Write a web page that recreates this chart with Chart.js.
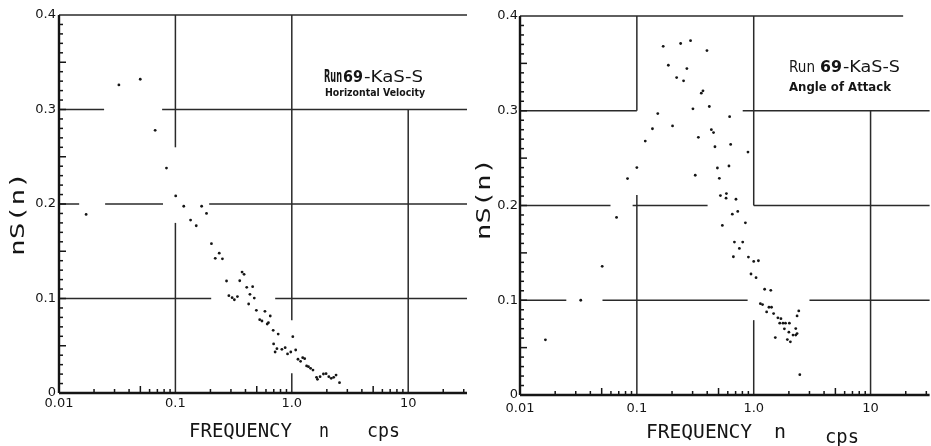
<!DOCTYPE html>
<html>
<head>
<meta charset="utf-8">
<script src="https://cdn.jsdelivr.net/npm/chart.js@4.4.1/dist/chart.umd.min.js"></script>
<style>
  html, body { margin: 0; padding: 0; background: #fff; }
  #wrap { position: relative; width: 931px; height: 446px; overflow: hidden; }
  #wrap canvas { position: absolute; top: 0; }
  #left { left: 0; }
  #right { left: 460px; }
</style>
</head>
<body>
<div id="wrap">
  <canvas id="left" width="470" height="446"></canvas>
  <canvas id="right" width="471" height="446"></canvas>
</div>
<script>
// tick values and labels (shared by both panels)
const freqTicks = [0.01, 0.1, 1, 10];
const freqLabels = ["0.01", "0.1", "1.0", "10"];
const powerTicks = [0, 0.1, 0.2, 0.3, 0.4];
const powerLabels = ["0", "0.1", "0.2", "0.3", "0.4"];

// Horizontal velocity spectrum (left panel), frequency in cps
const hvFreq = [0.0171, 0.0327, 0.0499, 0.067, 0.0838, 0.1006, 0.118, 0.135, 0.151, 0.168,
  0.185, 0.204, 0.22, 0.238, 0.2535, 0.275, 0.288, 0.307, 0.321, 0.341,
  0.357, 0.374, 0.389, 0.41, 0.426, 0.437, 0.461, 0.476, 0.496, 0.53,
  0.554, 0.588, 0.615, 0.63, 0.653, 0.692, 0.698, 0.719, 0.745, 0.764,
  0.822, 0.877, 0.919, 0.98, 1.02, 1.08, 1.13, 1.19, 1.24, 1.29,
  1.34, 1.39, 1.45, 1.52, 1.63, 1.66, 1.75, 1.87, 1.97, 2.08,
  2.18, 2.29, 2.4, 2.57];
const hvPower = [0.189, 0.326, 0.332, 0.278, 0.238, 0.2085, 0.1976, 0.183, 0.177, 0.1976,
  0.19, 0.158, 0.1425, 0.148, 0.142, 0.1185, 0.103, 0.1009, 0.0987, 0.102,
  0.1188, 0.128, 0.1256, 0.1118, 0.0942, 0.1044, 0.1125, 0.1005, 0.0875, 0.0776,
  0.0762, 0.0864, 0.073, 0.0744, 0.0815, 0.0663, 0.0519, 0.0434, 0.0469, 0.0624,
  0.0462, 0.048, 0.0413, 0.0434, 0.0596, 0.0455, 0.0357, 0.0335, 0.0374, 0.0363,
  0.0286, 0.0279, 0.0261, 0.0243, 0.0166, 0.0145, 0.0173, 0.0201, 0.0204, 0.0173,
  0.0155, 0.0166, 0.019, 0.0109];

// Angle of attack spectrum (right panel)
const aoaFreq = [0.0165, 0.0331, 0.0505, 0.067, 0.0832, 0.1, 0.118, 0.136, 0.151, 0.168,
  0.186, 0.202, 0.219, 0.237, 0.251, 0.268, 0.288, 0.302, 0.316, 0.336,
  0.356, 0.368, 0.398, 0.417, 0.434, 0.453, 0.466, 0.489, 0.508, 0.519,
  0.539, 0.58, 0.584, 0.614, 0.622, 0.635, 0.656, 0.67, 0.684, 0.705,
  0.73, 0.754, 0.805, 0.849, 0.893, 0.901, 0.948, 1.0, 1.047, 1.097,
  1.14, 1.19, 1.24, 1.29, 1.35, 1.4, 1.42, 1.48, 1.53, 1.61,
  1.67, 1.71, 1.78, 1.83, 1.87, 1.94, 2.0, 2.02, 2.06, 2.17,
  2.29, 2.29, 2.35, 2.35, 2.43, 2.48];
const aoaPower = [0.0582, 0.1, 0.1358, 0.1874, 0.2284, 0.24, 0.268, 0.281, 0.297, 0.368,
  0.348, 0.284, 0.335, 0.371, 0.3316, 0.3445, 0.374, 0.302, 0.2319, 0.272,
  0.3185, 0.321, 0.3635, 0.3045, 0.28, 0.277, 0.262, 0.2396, 0.2287, 0.2105,
  0.179, 0.2077, 0.2126, 0.2417, 0.2937, 0.2645, 0.1908, 0.1459, 0.1614, 0.2066,
  0.1937, 0.1547, 0.1614, 0.1817, 0.2564, 0.1456, 0.1277, 0.141, 0.1238, 0.1417,
  0.0964, 0.0954, 0.1116, 0.0877, 0.0926, 0.1105, 0.0926, 0.0859, 0.0606, 0.0814,
  0.0758, 0.0806, 0.0758, 0.0698, 0.0758, 0.0585, 0.0663, 0.0758, 0.0561, 0.0632,
  0.0632, 0.0701, 0.0648, 0.0835, 0.0887, 0.0214];

const INK = "#151515";
const MONO = "DejaVu Sans Mono";
const SANS = "DejaVu Sans";

function fitText(ctx, text, x, y, width, font) {
  ctx.font = font;
  const w = ctx.measureText(text).width;
  ctx.save();
  ctx.translate(x, y);
  ctx.scale(width / w, 1);
  ctx.fillText(text, 0, 0);
  ctx.restore();
}

function labelFor(values, labels, v) {
  const i = values.findIndex(t => Math.abs(t - v) <= Math.abs(t) * 1e-6 + 1e-12);
  return i < 0 ? "" : labels[i];
}

// graph-paper grid with the gaps of the original, plus the two axes and their minor ticks
const paperPlugin = {
  id: "paper",
  beforeDatasetsDraw(chart, args, o) {
    const { ctx } = chart;
    const x = chart.scales.x, y = chart.scales.y;
    const seg = (x1, y1, x2, y2) => { ctx.beginPath(); ctx.moveTo(x1, y1); ctx.lineTo(x2, y2); ctx.stroke(); };
    ctx.save();
    ctx.strokeStyle = "#2a2a2a";
    ctx.lineWidth = 1.5;
    o.hLines.forEach(([v, a, b]) => {
      const py = y.getPixelForValue(v);
      seg(x.getPixelForValue(a), py, x.getPixelForValue(b), py);
    });
    o.vLines.forEach(([f, a, b]) => {
      const px = x.getPixelForValue(f);
      seg(px, y.getPixelForValue(a), px, y.getPixelForValue(b));
    });

    // axes
    const x0 = x.getPixelForValue(0.01), y0 = y.getPixelForValue(0);
    ctx.strokeStyle = INK;
    ctx.lineWidth = 2.4;
    seg(x0, y.getPixelForValue(0.4), x0, y0);
    seg(x0, y0, x.right, y0);

    ctx.lineWidth = 1.5;
    for (let i = 1; i < 40; i++) {
      const py = y.getPixelForValue(i / 100);
      seg(x0, py, x0 + (i % 5 === 0 ? 7 : 4), py);
    }
    [0.01, 0.1, 1, 10].forEach(d => {
      for (let k = 2; k <= 9; k++) {
        const v = k * d;
        if (v > x.max) continue;
        const px = x.getPixelForValue(v);
        seg(px, y0, px, y0 - (k === 5 ? 7 : 4));
      }
    });
    ctx.restore();
  },
  afterDraw(chart, args, o) {
    const { ctx } = chart;
    ctx.save();
    ctx.fillStyle = INK;
    ctx.textAlign = "left";
    ctx.textBaseline = "alphabetic";
    o.xTitle.forEach(t => fitText(ctx, t.text, t.x, t.y, t.w, "20px " + MONO));
    // rotated y title
    ctx.save();
    ctx.translate(o.yTitle.x, o.yTitle.y);
    ctx.rotate(-Math.PI / 2);
    ctx.textBaseline = "middle";
    fitText(ctx, o.yTitle.text, -o.yTitle.w / 2, 0, o.yTitle.w, "20px " + MONO);
    ctx.restore();
    ctx.textBaseline = "middle";
    o.notes.forEach(t => fitText(ctx, t.text, t.x, t.y, t.w, t.font));
    ctx.restore();
  }
};

function panel(id, freq, power, cfg) {
  const points = freq.map((f, i) => ({ x: f, y: power[i] }));
  return new Chart(document.getElementById(id), {
    type: "scatter",
    data: {
      datasets: [{
        data: points,
        pointRadius: 1.4,
        pointHoverRadius: 1.4,
        backgroundColor: INK,
        borderWidth: 0
      }]
    },
    options: {
      responsive: false,
      animation: false,
      events: [],
      layout: { padding: { top: cfg.top, right: cfg.right, bottom: 0, left: 0 } },
      plugins: {
        legend: { display: false },
        tooltip: { enabled: false },
        paper: cfg
      },
      scales: {
        x: {
          type: "logarithmic",
          min: 0.01,
          max: 32,
          afterBuildTicks: s => { s.ticks = freqTicks.map(v => ({ value: v })); },
          afterFit: s => { s.height = cfg.xHeight; },
          ticks: {
            autoSkip: false,
            maxRotation: 0,
            padding: cfg.xPad,
            color: INK,
            font: { family: SANS, size: 13 },
            callback: v => labelFor(freqTicks, freqLabels, v)
          },
          grid: { display: false, drawTicks: false, tickLength: 0 },
          border: { display: false }
        },
        y: {
          min: 0,
          max: 0.4,
          afterBuildTicks: s => { s.ticks = powerTicks.map(v => ({ value: v })); },
          afterFit: s => { s.width = cfg.yWidth; },
          ticks: {
            padding: cfg.yPad,
            color: INK,
            font: { family: SANS, size: 13 },
            callback: v => labelFor(powerTicks, powerLabels, v)
          },
          grid: { display: false, drawTicks: false, tickLength: 0 },
          border: { display: false }
        }
      }
    },
    plugins: [paperPlugin]
  });
}

panel("left", hvFreq, hvPower, {
  top: 15, right: 3, xHeight: 53, yWidth: 59, xPad: 3, yPad: 3,
  hLines: [[0.4, 0.01, 32], [0.3, 0.01, 0.0244], [0.3, 0.0769, 32],
    [0.2, 0.01, 0.0149], [0.2, 0.0249, 0.0783], [0.2, 0.195, 32],
    [0.1, 0.01, 0.203], [0.1, 0.72, 32]],
  vLines: [[0.1, 0.4, 0.26], [0.1, 0.18, 0], [1, 0.4, 0.077], [1, 0.021, 0], [10, 0.3, 0]],
  xTitle: [
    { text: "FREQUENCY", x: 189, y: 437, w: 103 },
    { text: "n", x: 319, y: 437, w: 10 },
    { text: "cps", x: 367, y: 437, w: 33 }
  ],
  yTitle: { text: "nS(n)", x: 19, y: 214, w: 84 },
  notes: [
    { text: "Run", x: 324, y: 78, w: 18, font: "bold 17px " + SANS },
    { text: "69", x: 343, y: 78, w: 20, font: "bold 16px " + SANS },
    { text: "-KaS-S", x: 364, y: 78, w: 59, font: "16px " + SANS },
    { text: "Horizontal Velocity", x: 325, y: 93, w: 100, font: "bold 11px " + SANS }
  ]
});

panel("right", aoaFreq, aoaPower, {
  top: 16, right: 0, xHeight: 51, yWidth: 60, xPad: 6, yPad: 2,
  hLines: [[0.4, 0.01, 19], [0.3, 0.01, 0.1], [0.3, 0.805, 32],
    [0.2, 0.01, 0.0595], [0.2, 0.092, 0.403], [0.2, 1, 32],
    [0.1, 0.01, 0.0249], [0.1, 0.0508, 0.887], [0.1, 3.0, 32]],
  vLines: [[0.1, 0.4, 0.3], [0.1, 0.211, 0], [1, 0.4, 0.2], [1, 0.079, 0], [10, 0.3, 0]],
  xTitle: [
    { text: "FREQUENCY", x: 186, y: 438, w: 106 },
    { text: "n", x: 314, y: 438, w: 12 },
    { text: "cps", x: 365, y: 443, w: 34 }
  ],
  yTitle: { text: "nS(n)", x: 25, y: 199, w: 82 },
  notes: [
    { text: "Run", x: 329, y: 68, w: 26, font: "16px " + SANS },
    { text: "69", x: 360, y: 68, w: 22, font: "bold 16px " + SANS },
    { text: "-KaS-S", x: 383, y: 68, w: 57, font: "16px " + SANS },
    { text: "Angle of Attack", x: 329, y: 88, w: 102, font: "bold 12px " + SANS }
  ]
});
</script>
</body>
</html>
